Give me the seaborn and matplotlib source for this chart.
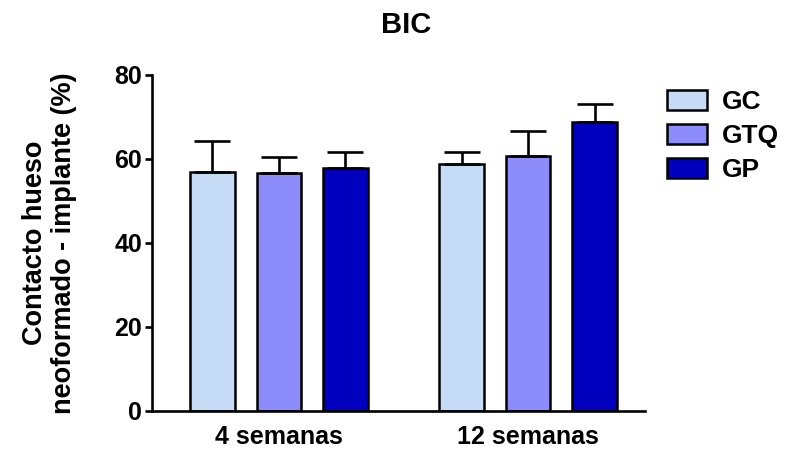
import pandas as pd
import matplotlib.pyplot as plt
import seaborn as sns

# values
periodos = ['4 semanas', '12 semanas']
grupos = ['GC', 'GTQ', 'GP']
media_gc = [57.0, 58.9]
media_gtq = [56.7, 60.7]
media_gp = [57.9, 68.8]
err_gc = [7.3, 2.8]
err_gtq = [3.7, 6.0]
err_gp = [3.7, 4.3]
colores = ['#C6DCF6', '#8C8CFA', '#0000BE']

rows = []
for g, medias in zip(grupos, [media_gc, media_gtq, media_gp]):
    for p, m in zip(periodos, medias):
        rows.append({'periodo': p, 'grupo': g, 'bic': m})
data = pd.DataFrame(rows)

sns.set_style('ticks')
plt.rcParams['font.family'] = ['Liberation Sans', 'DejaVu Sans']
plt.rcParams['font.weight'] = 'bold'
for k in ['text.color', 'axes.labelcolor', 'xtick.color', 'ytick.color',
          'axes.edgecolor']:
    plt.rcParams[k] = 'black'

fig = plt.figure(figsize=(7.86, 4.57), dpi=100)
ax = fig.add_axes([0.193, 0.1007, 0.628, 0.7353])

sns.barplot(data=data, x='periodo', y='bic', hue='grupo', order=periodos,
            hue_order=grupos, palette=colores, width=0.8, gap=0.33,
            errorbar=None, edgecolor='black', linewidth=1.8, legend=False,
            saturation=1, ax=ax)

bar_conts = list(ax.containers)
for cont, errs in zip(bar_conts, [err_gc, err_gtq, err_gp]):
    xs = [b.get_x() + b.get_width() / 2 for b in cont.patches]
    ys = [b.get_height() for b in cont.patches]
    ax.errorbar(xs, ys, yerr=[[0] * len(errs), errs], fmt='none',
                ecolor='black', elinewidth=1.9, capsize=13, capthick=1.9,
                zorder=1)

ax.set_ylim(0, 80)
ax.set_yticks([0, 20, 40, 60, 80])
ax.set_xlim(-0.51, 1.47)
sns.despine(ax=ax)
for s in ['left', 'bottom']:
    ax.spines[s].set_linewidth(1.9)
    ax.spines[s].set_color('black')
ax.tick_params(axis='y', length=5, width=1.9, labelsize=18, pad=2,
               colors='black')
ax.tick_params(axis='x', length=0, labelsize=18, pad=10, colors='black')
ax.set_xlabel('')
ax.set_ylabel('Contacto hueso\nneoformado - implante (%)', fontsize=19.5,
              fontweight='bold', labelpad=27, linespacing=1.15, color='black')
ax.set_title('BIC', fontsize=21, fontweight='bold', pad=30, x=0.515,
             color='black')

handles = [c.patches[0] for c in bar_conts]
fig.legend(handles, grupos, loc='center left', bbox_to_anchor=(0.8486, 0.702),
           frameon=False, fontsize=19, handlelength=1.5, handleheight=0.76,
           labelspacing=0.38, handletextpad=0.57, borderpad=0,
           borderaxespad=0)

plt.savefig('out.png', dpi=100)
